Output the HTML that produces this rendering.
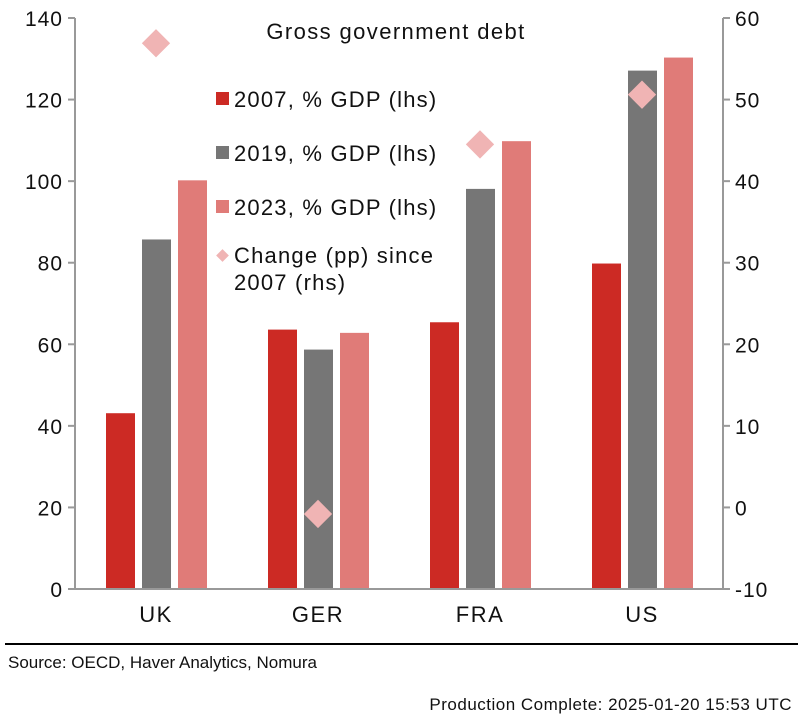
<!DOCTYPE html><html><head><style>body{margin:0;background:#fff}svg text{font-family:"Liberation Sans",sans-serif;fill:#111}</style></head><body>
<svg id="c" width="798" height="722"></svg>
<script>
const categories=["UK","GER","FRA","US"];
const debt2007=[43.1,63.6,65.4,79.8];
const debt2019=[85.7,58.7,98.1,127.1];
const debt2023=[100.2,62.8,109.8,130.3];
const change=[56.9,-0.8,44.5,50.6];
const leftTicks=[0,20,40,60,80,100,120,140];
const rightTicks=[-10,0,10,20,30,40,50,60];
const NS="http://www.w3.org/2000/svg",svg=document.getElementById('c');
const X0=75,X1=723,Y0=589,Y1=18;
const yL=v=>Y0-(v/140)*(Y0-Y1);
const yR=v=>Y0-((v+10)/70)*(Y0-Y1);
const bw=(X1-X0)/categories.length;
const cx=i=>X0+bw*(i+0.5);
function el(t,a,txt){const e=document.createElementNS(NS,t);for(const k in a)e.setAttribute(k,a[k]);if(txt!==undefined)e.textContent=txt;svg.appendChild(e);return e;}
const series=[[debt2007,"#cc2a24",-50],[debt2019,"#767676",-14],[debt2023,"#e07b78",22]];
series.forEach((s,si)=>s[0].forEach((v,i)=>{const r=el('rect',{x:cx(i)+s[2],y:yL(v),width:29,height:Y0-yL(v),fill:s[1]});

}));
change.forEach((v,i)=>{const d=el('rect',{x:cx(i)-10,y:yR(v)-10,width:20,height:20,fill:"#f0b4b4",transform:`rotate(45 ${cx(i)} ${yR(v)})`});

});
el('line',{x1:X0,y1:Y1,x2:X0,y2:Y0,stroke:"#999","stroke-width":2,});
el('line',{x1:X1,y1:Y1,x2:X1,y2:Y0,stroke:"#999","stroke-width":2,});
el('line',{x1:X0-7,y1:Y0,x2:X1+7,y2:Y0,stroke:"#999","stroke-width":2,});
leftTicks.forEach(v=>{el('line',{x1:X0-7,y1:yL(v),x2:X0,y2:yL(v),stroke:"#999","stroke-width":2});
const t=el('text',{x:X0-12,y:yL(v)+8,"text-anchor":"end","font-size":21,"letter-spacing":1},v);});
rightTicks.forEach(v=>{el('line',{x1:X1,y1:yR(v),x2:X1+7,y2:yR(v),stroke:"#999","stroke-width":2});
const t=el('text',{x:X1+12,y:yR(v)+8,"font-size":21,"letter-spacing":1},v);});
categories.forEach((c,i)=>{const t=el('text',{x:cx(i),y:622,"text-anchor":"middle","font-size":22,"letter-spacing":1.5},c);});
el('text',{x:396,y:39,"text-anchor":"middle","font-size":22,"letter-spacing":1.4,},"Gross government debt");
const leg=[["#cc2a24","2007, % GDP (lhs)",100],["#767676","2019, % GDP (lhs)",154],["#e07b78","2023, % GDP (lhs)",208]];
leg.forEach(l=>{el('rect',{x:216,y:l[2]-8,width:13,height:13,fill:l[0],});
el('text',{x:234,y:l[2]+7,"font-size":22,"letter-spacing":1.2,},l[1]);});
el('rect',{x:218,y:251,width:9,height:9,fill:"#f0b4b4",transform:"rotate(45 222.5 255.5)",});
el('text',{x:234,y:263,"font-size":22,"letter-spacing":1.2,},"Change (pp) since");
el('text',{x:234,y:290,"font-size":22,"letter-spacing":1.2,},"2007 (rhs)");
el('line',{x1:5,y1:644,x2:798,y2:644,stroke:"#000","stroke-width":2,});
el('text',{x:8,y:668,"font-size":17,},"Source: OECD, Haver Analytics, Nomura");
el('text',{x:792,y:710,"text-anchor":"end","font-size":17,"letter-spacing":0.5,},"Production Complete: 2025-01-20 15:53 UTC");
</script></body></html>
